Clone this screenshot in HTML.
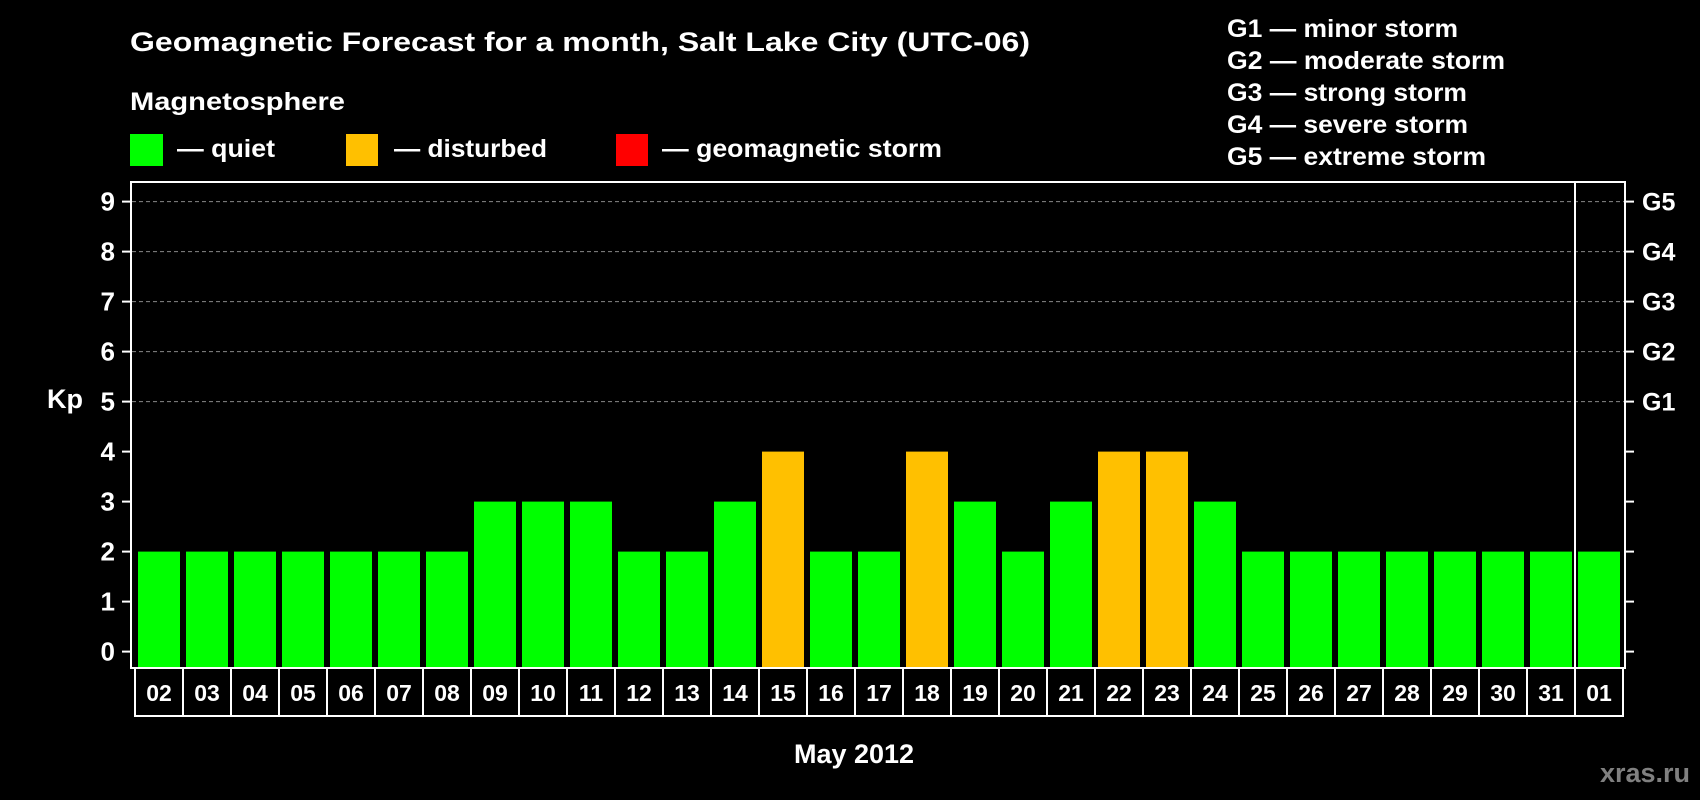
<!DOCTYPE html>
<html><head><meta charset="utf-8"><style>
html,body{margin:0;padding:0;background:#000;}
svg{display:block;font-family:"Liberation Sans",sans-serif;font-weight:bold;}
</style></head><body>
<svg id="chart" width="1700" height="800" viewBox="0 0 1700 800">
<rect width="1700" height="800" fill="#000"/>
<text x="130" y="51" fill="#fff" font-size="27" textLength="900" lengthAdjust="spacingAndGlyphs">Geomagnetic Forecast for a month, Salt Lake City (UTC-06)</text>
<text x="130" y="110" fill="#fff" font-size="25" textLength="215" lengthAdjust="spacingAndGlyphs">Magnetosphere</text>
<g><rect x="130" y="134" width="33" height="32" fill="#00ff00"/><text x="177" y="157" fill="#fff" font-size="25" textLength="98" lengthAdjust="spacingAndGlyphs">— quiet</text></g>
<g><rect x="346" y="134" width="32" height="32" fill="#ffc000"/><text x="394" y="157" fill="#fff" font-size="25" textLength="153" lengthAdjust="spacingAndGlyphs">— disturbed</text></g>
<g><rect x="616" y="134" width="32" height="32" fill="#ff0000"/><text x="662" y="157" fill="#fff" font-size="25" textLength="280" lengthAdjust="spacingAndGlyphs">— geomagnetic storm</text></g>
<g fill="#fff" font-size="25">
<text x="1227" y="37" textLength="231" lengthAdjust="spacingAndGlyphs">G1 — minor storm</text>
<text x="1227" y="69" textLength="278" lengthAdjust="spacingAndGlyphs">G2 — moderate storm</text>
<text x="1227" y="101" textLength="240" lengthAdjust="spacingAndGlyphs">G3 — strong storm</text>
<text x="1227" y="133" textLength="241" lengthAdjust="spacingAndGlyphs">G4 — severe storm</text>
<text x="1227" y="165" textLength="259" lengthAdjust="spacingAndGlyphs">G5 — extreme storm</text>
</g>
<g id="grid"></g>
<g id="bars"></g>
<rect x="131" y="182" width="1494" height="486" fill="none" stroke="#fff" stroke-width="2"/>
<line x1="1575" y1="182" x2="1575" y2="668" stroke="#fff" stroke-width="2"/>
<g id="axes"></g>
<g id="dates"></g>
<text x="47" y="408" fill="#fff" font-size="27">Kp</text>
<text x="854" y="763" fill="#fff" font-size="27" text-anchor="middle">May 2012</text>
<text x="1690" y="782" fill="#808080" font-size="27" text-anchor="end">xras.ru</text>
</svg>
<script>
const days = ["02","03","04","05","06","07","08","09","10","11","12","13","14","15","16","17","18","19","20","21","22","23","24","25","26","27","28","29","30","31","01"];
const kpValues = [2,2,2,2,2,2,2,3,3,3,2,2,3,4,2,2,4,3,2,3,4,4,3,2,2,2,2,2,2,2,2];
const yTicks = [0,1,2,3,4,5,6,7,8,9];
const gLabels = ["G1","G2","G3","G4","G5"];
const gLevels = [5,6,7,8,9];

const NS = "http://www.w3.org/2000/svg";
function yScale(v){ return 651.6 - v*50; }
function xBar(i){ return 138 + i*48; }
function xCell(i){ return 135 + i*48; }
function mk(tag, attrs, parent){ const e=document.createElementNS(NS,tag); for(const k in attrs) e.setAttribute(k,attrs[k]); parent.appendChild(e); return e; }
const grid=document.getElementById('grid'), bars=document.getElementById('bars'), axes=document.getElementById('axes'), dates=document.getElementById('dates');

gLevels.forEach((lv,i)=>{
  const l=mk('line',{x1:132,x2:1624,y1:yScale(lv),y2:yScale(lv),stroke:'#888','stroke-width':1,'stroke-dasharray':'4,3'},grid);
  
  
  const t=mk('text',{x:1642,y:yScale(lv)+9,fill:'#fff','font-size':25},axes);
  t.textContent=gLabels[i];
  
  
});
yTicks.forEach(v=>{
  const y=yScale(v);
  const a=mk('line',{x1:122,x2:131,y1:y,y2:y,stroke:'#fff','stroke-width':2},axes);
  
  
  const b=mk('line',{x1:1625,x2:1634,y1:y,y2:y,stroke:'#fff','stroke-width':2},axes);
  
  
  const t=mk('text',{x:115,y:y+9,fill:'#fff','font-size':26,'text-anchor':'end'},axes);
  t.textContent=v;
  
  
});
kpValues.forEach((v,i)=>{
  const top=yScale(v);
  const r=mk('rect',{x:xBar(i),y:top,width:42,height:667-top,fill:v>=5?'#ff0000':(v>=4?'#ffc000':'#00ff00')},bars);
  
  
});
days.forEach((d,i)=>{
  const c=mk('rect',{x:xCell(i),y:668,width:48,height:48,fill:'none',stroke:'#fff','stroke-width':2},dates);
  
  
  const t=mk('text',{x:xCell(i)+24,y:701,fill:'#fff','font-size':23,'text-anchor':'middle'},dates);
  t.textContent=d;
  
  
});
</script>
</body></html>
